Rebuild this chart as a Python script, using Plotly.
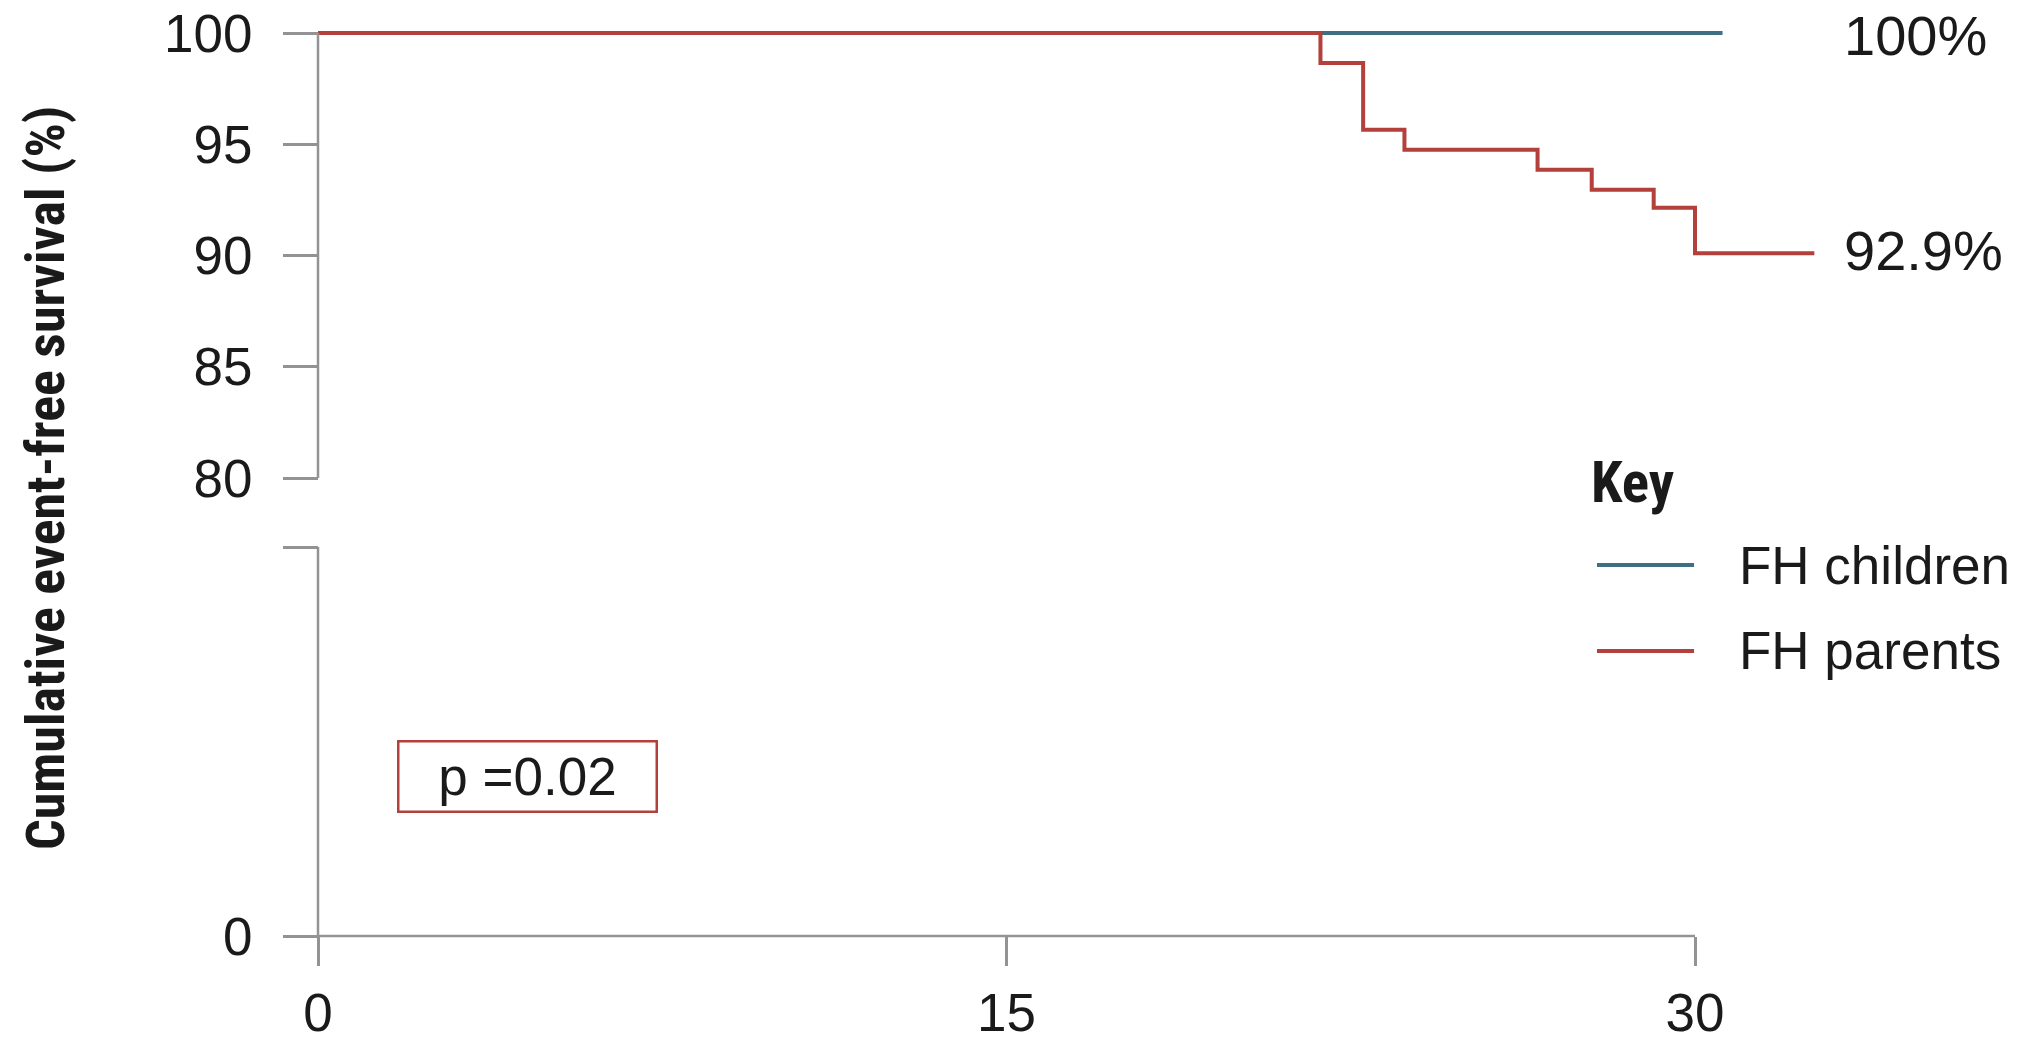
import plotly.graph_objects as go

# ---------------- data ----------------
children_time = [0, 30.6]
children_surv = [100, 100]

parents_time = [0, 21.84, 22.77, 23.67, 26.57, 27.75, 29.10, 30.0, 32.6]
parents_surv = [100, 98.65, 95.65, 94.75, 93.85, 92.95, 92.15, 90.1, 90.1]

series_names = ["FH children", "FH parents"]
end_labels = ["100%", "92.9%"]
y_top_ticks = [80, 85, 90, 95, 100]
y_bottom_ticks = [0, 1]
y_bottom_ticktext = ["0", ""]
x_ticks = [0, 15, 30]
p_text = "p =0.02"
y_title = "Cumulative event-free survival (%)"
legend_title = "Key"

# ---------------- styling ----------------
OFF = 8                      # default page body margin of the html page
W, H = 2026 - OFF, 1042 - OFF
RED = "#b3403a"
BLUE = "#3e6f85"
AXIS = "#939393"
TXT = "#1a1a1a"
FONT = "Liberation Sans, Arial, Helvetica, sans-serif"
NARROW = "Liberation Sans Narrow, Arial Narrow, Roboto Condensed, DejaVu Sans Condensed, Liberation Sans, sans-serif"

# target pixel layout in the 2026x1042 window
X0_PX, PX_PER_X = 318.0, 45.9          # x=0 position, pixels per unit
XDOM_LEFT_PX = 309.0
TOP_Y100_PX, PX_PER_Y = 33.0, 22.25    # y=100 position, pixels per unit (upper panel)
TOP_DOM = (25.0, 484.0)                # top/bottom pixel of upper panel
BOT_Y0_PX, BOT_Y1_PX = 936.0, 547.0    # lower panel: value 0 and value 1
BOT_DOM = (547.0, 942.0)


def px_(x):
    return (x - OFF) / W


def py(y):
    return (1042 - y) / H


x_min = (XDOM_LEFT_PX - X0_PX) / PX_PER_X
x_max = (2026 - X0_PX) / PX_PER_X
top_range = [100 - (TOP_DOM[1] - TOP_Y100_PX) / PX_PER_Y, 100 + (TOP_Y100_PX - TOP_DOM[0]) / PX_PER_Y]
bot_scale = (BOT_Y0_PX - BOT_Y1_PX)
bot_range = [-(BOT_DOM[1] - BOT_Y0_PX) / bot_scale, 1 + (BOT_Y1_PX - BOT_DOM[0]) / bot_scale]

fig = go.Figure()

fig.add_trace(go.Scatter(x=children_time, y=children_surv, mode="lines", line_shape="hv",
                         line=dict(color=BLUE, width=4), name=series_names[0],
                         xaxis="x", yaxis="y", showlegend=False))
fig.add_trace(go.Scatter(x=parents_time, y=parents_surv, mode="lines", line_shape="hv",
                         line=dict(color=RED, width=4), name=series_names[1],
                         xaxis="x", yaxis="y", showlegend=False))
# empty trace to create the lower (broken-axis) panel
fig.add_trace(go.Scatter(x=[None], y=[None], xaxis="x", yaxis="y2", showlegend=False,
                         hoverinfo="skip"))

tickfont = dict(family=FONT, size=53, color=TXT)

fig.update_layout(
    template="none",
    width=W, height=H,
    margin=dict(l=0, r=0, t=0, b=0, pad=0),
    paper_bgcolor="white", plot_bgcolor="white",
    showlegend=False,
    xaxis=dict(domain=[px_(XDOM_LEFT_PX), 1], range=[x_min, x_max], automargin=False,
               anchor="free", position=py(BOT_Y0_PX),
               tickmode="array", tickvals=x_ticks, ticks="outside", ticklen=29,
               tickwidth=2.5, tickcolor=AXIS, showline=False, showgrid=False, zeroline=False,
               tickfont=tickfont, ticklabelstandoff=1, ticklabeloverflow="allow"),
    yaxis=dict(domain=[py(TOP_DOM[1]), py(TOP_DOM[0])], range=top_range, automargin=False,
               anchor="free", position=px_(X0_PX),
               tickmode="array", tickvals=y_top_ticks, ticks="outside", ticklen=35,
               tickwidth=2.5, tickcolor=AXIS, showline=False, showgrid=False, zeroline=False,
               tickfont=tickfont, ticklabelstandoff=20, ticklabeloverflow="allow"),
    yaxis2=dict(domain=[py(BOT_DOM[1]), py(BOT_DOM[0])], range=bot_range, automargin=False,
                anchor="free", position=px_(X0_PX),
                tickmode="array", tickvals=y_bottom_ticks, ticktext=y_bottom_ticktext,
                ticks="outside", ticklen=35,
                tickwidth=2.5, tickcolor=AXIS, showline=False, showgrid=False, zeroline=False,
                tickfont=tickfont, ticklabelstandoff=20, ticklabeloverflow="allow"),
)

# axis lines (drawn in data coordinates)
line_style = dict(color=AXIS, width=2.5)
fig.add_shape(type="line", xref="x", yref="y", x0=0, x1=0, y0=y_top_ticks[0], y1=y_top_ticks[-1], line=line_style)
fig.add_shape(type="line", xref="x", yref="y2", x0=0, x1=0, y0=y_bottom_ticks[0], y1=y_bottom_ticks[-1], line=line_style)
fig.add_shape(type="line", xref="x", yref="y2", x0=x_ticks[0], x1=x_ticks[-1], y0=0, y1=0, line=line_style)

# end-of-curve labels
lab_font = dict(family=FONT, size=56, color=TXT)
fig.add_annotation(x=33.2, y=children_surv[-1], xref="x", yref="y", text=end_labels[0],
                   showarrow=False, xanchor="left", yanchor="middle", font=lab_font, yshift=-3)
fig.add_annotation(x=33.2, y=parents_surv[-1], xref="x", yref="y", text=end_labels[1],
                   showarrow=False, xanchor="left", yanchor="middle", font=lab_font, yshift=3)

# p-value box
fig.add_annotation(x=(527.5 - X0_PX) / PX_PER_X, y=(BOT_Y0_PX - 776.5) / bot_scale, xref="x", yref="y2",
                   text=p_text, showarrow=False, xanchor="center", yanchor="middle",
                   font=dict(family=FONT, size=53, color=TXT),
                   bordercolor=RED, borderwidth=2.5, borderpad=0, width=256, height=68,
                   bgcolor="rgba(255,255,255,0)")

# y-axis title
fig.add_annotation(x=px_(45), y=py(478), xref="paper", yref="paper", text="<b>%s</b>" % y_title,
                   textangle=-90, showarrow=False, xanchor="center", yanchor="middle",
                   font=dict(family=NARROW, size=54, color=TXT))

# legend ("Key")
fig.add_annotation(x=px_(1589), y=py(482), xref="paper", yref="paper", text="<b>%s</b>" % legend_title,
                   showarrow=False, xanchor="left", yanchor="middle",
                   font=dict(family=NARROW, size=57, color=TXT))
for name, color, ypx in [(series_names[0], BLUE, 565), (series_names[1], RED, 651)]:
    fig.add_shape(type="line", xref="paper", yref="paper", x0=px_(1597), x1=px_(1694),
                  y0=py(ypx), y1=py(ypx), line=dict(color=color, width=4))
    fig.add_annotation(x=px_(1737), y=py(ypx), xref="paper", yref="paper", text=name,
                       showarrow=False, xanchor="left", yanchor="middle",
                       font=dict(family=FONT, size=53, color=TXT))

fig.write_html("out.html")
